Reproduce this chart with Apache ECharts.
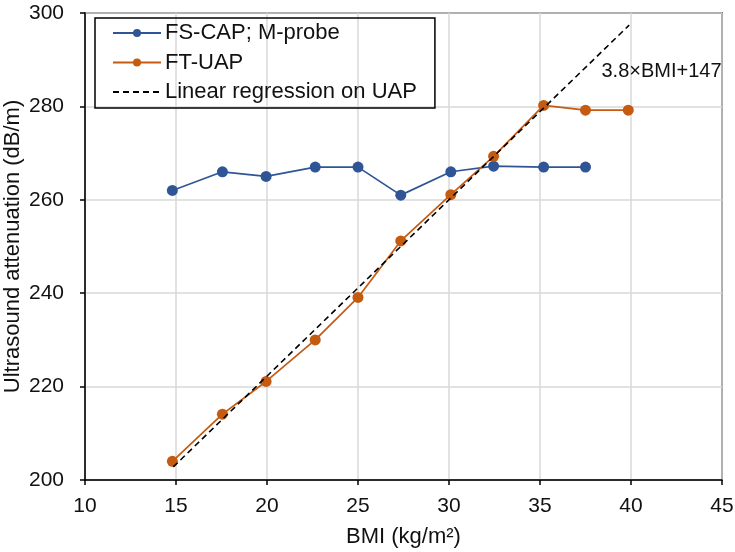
<!DOCTYPE html>
<html>
<head>
<meta charset="utf-8">
<script src="https://cdn.jsdelivr.net/npm/echarts@6/dist/echarts.min.js"></script>
<style>
html,body{margin:0;padding:0;background:#fff;}
#c{width:735px;height:552px;}
</style>
</head>
<body>
<div id="c"></div>
<script>
const capBmi = [14.8, 17.55, 19.95, 22.65, 25.0, 27.35, 30.1, 32.45, 35.2, 37.5];
const capValues = [262, 266, 265, 267, 267, 261, 266, 267.2, 267, 267];
const uapBmi = [14.8, 17.55, 19.95, 22.65, 25.0, 27.35, 30.1, 32.45, 35.2, 37.5, 39.85];
const uapValues = [204, 214.1, 221.1, 230, 239.1, 251.2, 261.1, 269.3, 280.2, 279.2, 279.2];
const regBmi = [14.85, 39.9];
const regValues = [202.8, 297.4];
const seriesNames = ['FS-CAP; M-probe', 'FT-UAP', 'Linear regression on UAP'];
const regLabel = '3.8\u00d7BMI+147';
const xTicks = [10, 15, 20, 25, 30, 35, 40, 45];
const yTicks = [200, 220, 240, 260, 280, 300];

const pair = (xs, ys) => xs.map((x, i) => [x, ys[i]]);
const FONT = 'Liberation Sans, Arial, sans-serif';
const chart = echarts.init(document.getElementById('c'), null, {renderer: 'canvas'});
chart.setOption({
  animation: false,
  backgroundColor: '#fff',
  textStyle: {fontFamily: FONT},
  grid: {left: 85, right: 13, top: 13, bottom: 72, containLabel: false, outerBoundsMode: 'none',
         show: true, borderColor: '#000', borderWidth: 1.5, backgroundColor: 'transparent'},
  legend: {
    orient: 'vertical', left: 95, top: 18,
    padding: [4, 18, 5, 17],
    itemGap: 7.5, itemWidth: 48, itemHeight: 10,
    borderColor: '#000', borderWidth: 1.5,
    textStyle: {fontSize: 22, color: '#111', fontFamily: FONT, padding: [0, 0, 0, -1]},
    data: [
      {name: seriesNames[0]},
      {name: seriesNames[1]},
      {name: seriesNames[2], itemStyle: {opacity: 0}}
    ]
  },
  xAxis: {
    type: 'value', min: xTicks[0], max: xTicks[xTicks.length - 1], interval: 5,
    name: 'BMI (kg/m\u00b2)', nameLocation: 'middle', nameGap: 46, nameMoveOverlap: false,
    nameTextStyle: {fontSize: 22, color: '#111', fontFamily: FONT},
    axisLine: {show: true, onZero: false, lineStyle: {color: '#000', width: 1.5}},
    axisTick: {show: true, length: 5, lineStyle: {color: '#000', width: 1.5}},
    axisLabel: {fontSize: 21, color: '#111', margin: 16, fontFamily: FONT},
    splitLine: {show: true, lineStyle: {color: '#d9d9d9', width: 1.5}}
  },
  yAxis: {
    type: 'value', min: yTicks[0], max: yTicks[yTicks.length - 1], interval: 20,
    name: 'Ultrasound attenuation (dB/m)', nameLocation: 'middle', nameGap: 61, nameMoveOverlap: false,
    nameTextStyle: {fontSize: 22, color: '#111', fontFamily: FONT, overflow: 'none', width: 600},
    nameTruncate: {maxWidth: 600},
    axisLine: {show: true, onZero: false, lineStyle: {color: '#000', width: 1.5}},
    axisTick: {show: true, length: 5, lineStyle: {color: '#000', width: 1.5}},
    axisLabel: {fontSize: 21, color: '#111', margin: 21, fontFamily: FONT},
    splitLine: {show: true, lineStyle: {color: '#d9d9d9', width: 1.5}}
  },
  series: [
    {
      name: seriesNames[0], type: 'line', data: pair(capBmi, capValues),
      symbol: 'circle', symbolSize: 11,
      itemStyle: {color: '#2f5597'}, lineStyle: {color: '#2f5597', width: 1.7}, z: 3
    },
    {
      name: seriesNames[1], type: 'line', data: pair(uapBmi, uapValues),
      symbol: 'circle', symbolSize: 11,
      itemStyle: {color: '#c55a11'}, lineStyle: {color: '#c55a11', width: 1.7}, z: 4
    },
    {
      name: seriesNames[2], type: 'line', data: pair(regBmi, regValues),
      symbol: 'none', itemStyle: {color: '#000'},
      lineStyle: {color: '#000', width: 1.6, type: [6, 4]}, z: 5,
      markPoint: {
        symbol: 'rect', symbolSize: 1, itemStyle: {color: 'transparent'},
        label: {show: true, position: 'right', distance: 0, formatter: regLabel, fontSize: 20, color: '#111', fontFamily: FONT},
        data: [{coord: [38.35, 287.5]}]
      }
    }
  ]
});
</script>
</body>
</html>
